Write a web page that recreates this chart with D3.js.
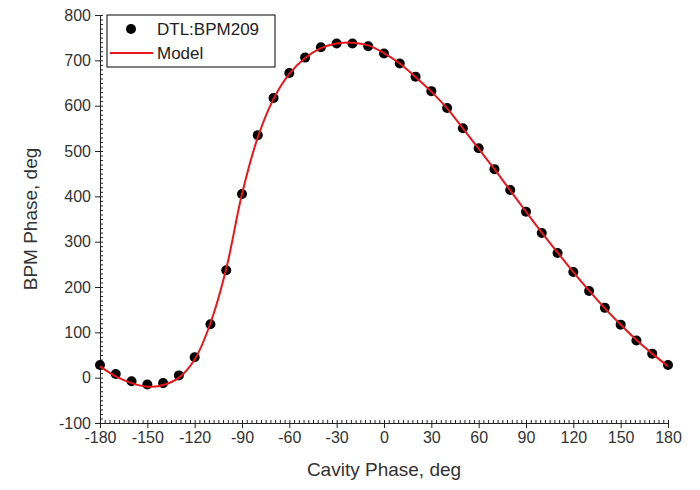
<!DOCTYPE html>
<html>
<head>
<meta charset="utf-8">
<script src="https://cdn.jsdelivr.net/npm/d3@7"></script>
<style>
  body { margin: 0; background: #fff; }
  text { font-family: "Liberation Sans", Arial, sans-serif; }
  .axis path, .axis line { stroke: #222; }
  .axis text { fill: #333; font-size: 16px; }
</style>
</head>
<body>
<div id="chart"></div>
<script>
// cavity phase (deg)
var phase = [-180,-170,-160,-150,-140,-130,-120,-110,-100,-90,-80,-70,-60,-50,-40,-30,-20,-10,
             0,10,20,30,40,50,60,70,80,90,100,110,120,130,140,150,160,170,180];
// measured BPM phase (deg)
var bpm = [28,8,-8,-15,-12,5,45,118,237,405,535,617,672,706,729,737,737,731,
           715,693,664,632,595,550,506,460,414,366,319,275,233,191,154,117,82,53,28];
// model curve (deg)
var model = [25,3,-12,-20,-16,0,40,120,240,405,530,615,670,705,727,737,739,733,
             716,693,663,631,594,550,505,460,413,366,320,276,233,192,153,117,83,53,25];
var xTicks = [-180,-150,-120,-90,-60,-30,0,30,60,90,120,150,180];
var yTicks = [-100,0,100,200,300,400,500,600,700,800];

var margin = {top:15, left:100, right:32, bottom:65},
    width  = 700 - margin.left - margin.right,
    height = 490 - margin.top - margin.bottom - 2;

var svg = d3.select("#chart").append("svg")
    .attr("width", 700).attr("height", 490)
  .append("g")
    .attr("transform", "translate(" + margin.left + "," + margin.top + ")");

var x = d3.scaleLinear().domain([-180, 180]).range([0, width]);
var y = d3.scaleLinear().domain([-100, 800]).range([height, 0]);

/* minor ticks point inward, majors outward */
svg.append("g").attr("class", "axis")
    .attr("transform", "translate(0," + height + ")")
    .call(d3.axisBottom(x).tickValues(d3.range(-180, 181, 3)).tickSize(-3).tickFormat(""));
svg.append("g").attr("class", "axis")
    .attr("transform", "translate(0," + height + ")")
    .call(d3.axisBottom(x).tickValues(xTicks).tickSize(5).tickSizeOuter(0).tickPadding(4).tickFormat(String));
svg.append("g").attr("class", "axis")
    .call(d3.axisLeft(y).tickValues(d3.range(-100, 801, 10)).tickSize(-3).tickFormat(""));
svg.append("g").attr("class", "axis")
    .call(d3.axisLeft(y).tickValues(yTicks).tickSize(5).tickSizeOuter(0).tickPadding(4).tickFormat(String));

svg.append("text")
    .attr("x", width / 2).attr("y", height + 53)
    .attr("text-anchor", "middle").attr("font-size", 19).attr("fill", "#333")
    .text("Cavity Phase, deg");
svg.append("text")
    .attr("transform", "translate(" + (-63) + "," + (height / 2) + ") rotate(-90)")
    .attr("text-anchor", "middle").attr("font-size", 19).attr("fill", "#333")
    .text("BPM Phase, deg");

var pts = phase.map(function(p, i) { return {x: p, y: bpm[i], m: model[i]}; });

svg.selectAll(".dot")
    .data(pts)
    .enter().append("circle")
    .attr("class", "dot")
    .attr("cx", function(d) { return x(d.x); })
    .attr("cy", function(d) { return y(d.y); })
    .attr("r", 5)
    .attr("fill", "#000");

var line = d3.line()
    .x(function(d) { return x(d.x); })
    .y(function(d) { return y(d.m); })
    .curve(d3.curveCatmullRom);

svg.append("path")
    .datum(pts)
    .attr("d", line)
    .attr("fill", "none")
    .attr("stroke", "#e8161b")
    .attr("stroke-width", 2);

// legend
var lg = svg.append("g").attr("transform", "translate(7,0)");
lg.append("rect").attr("x", 0).attr("y", 0).attr("width", 168).attr("height", 52)
    .attr("fill", "#fff").attr("stroke", "#000");
lg.append("circle").attr("cx", 24).attr("cy", 14).attr("r", 5).attr("fill", "#000");
lg.append("line").attr("x1", 3).attr("x2", 46).attr("y1", 38).attr("y2", 38)
    .attr("stroke", "#e8161b").attr("stroke-width", 2);
lg.append("text").attr("x", 50).attr("y", 20).attr("font-size", 17).attr("fill", "#222").text("DTL:BPM209");
lg.append("text").attr("x", 50).attr("y", 44).attr("font-size", 17).attr("fill", "#222").text("Model");
</script>
</body>
</html>
